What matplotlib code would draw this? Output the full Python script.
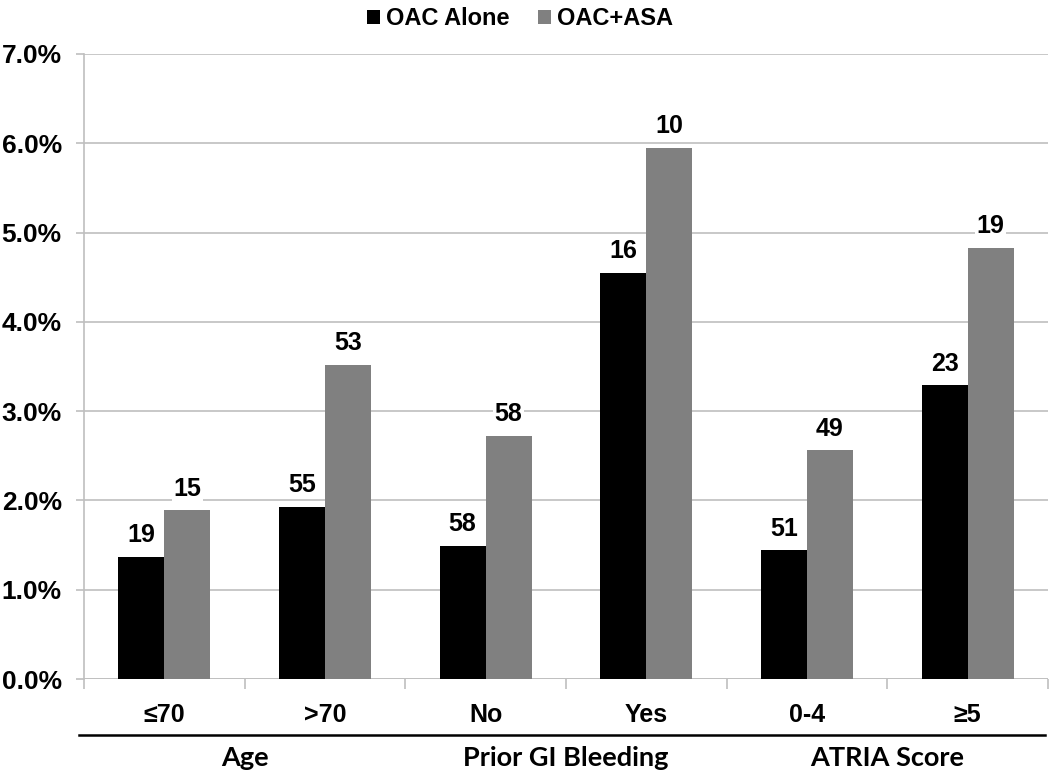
import matplotlib
matplotlib.use("Agg")
import matplotlib.pyplot as plt
import matplotlib.transforms as mtransforms
import numpy as np

categories = ["≤70", ">70", "No", "Yes", "0-4", "≥5"]
groups = ["Age", "Prior GI Bleeding", "ATRIA Score"]
series_names = ["OAC Alone", "OAC+ASA"]
oac_alone = [1.37, 1.93, 1.49, 4.55, 1.44, 3.29]
oac_asa = [1.89, 3.52, 2.72, 5.95, 2.56, 4.83]
n_alone = ["19", "55", "58", "16", "51", "23"]
n_asa = ["15", "53", "58", "10", "49", "19"]
yticks = [0, 1, 2, 3, 4, 5, 6, 7]

fig = plt.figure(figsize=(10.5, 7.71), dpi=100)
ax = fig.add_axes([0.08, 0.1193, 0.918, 0.8107])

x = np.arange(len(categories))
w = 0.286
grid_c = "#bfbfbf"
ax.bar(x - w / 2, oac_alone, w, color="#000000", label=series_names[0], zorder=3)
ax.bar(x + w / 2, oac_asa, w, color="#808080", label=series_names[1], zorder=3)

sans = ["Liberation Sans", "DejaVu Sans"]
lab_font = dict(family=sans, fontweight="bold", fontsize=18)
for xi, v, t in zip(x - w / 2, oac_alone, n_alone):
    ax.annotate(t, (xi, v), xytext=(0, 7), textcoords="offset points", ha="center", va="bottom",
                bbox=dict(facecolor="white", edgecolor="none", pad=1), zorder=4, **lab_font)
for xi, v, t in zip(x + w / 2, oac_asa, n_asa):
    ax.annotate(t, (xi, v), xytext=(0, 7), textcoords="offset points", ha="center", va="bottom",
                bbox=dict(facecolor="white", edgecolor="none", pad=1), zorder=4, **lab_font)

ax.set_ylim(0, 7)
ax.set_xlim(-0.5, len(categories) - 0.5)
ax.set_yticks(yticks)
ax.set_yticklabels([f"{v:.1f}%" for v in yticks])
ax.yaxis.grid(True, color=grid_c, linewidth=1.2, zorder=0)
ax.set_axisbelow(True)
for s in ["top", "right", "bottom"]:
    ax.spines[s].set_visible(False)
ax.spines["left"].set_color(grid_c)
ax.spines["left"].set_linewidth(1.2)
ax.axhline(0, color=grid_c, linewidth=1.2, zorder=2)
ax.tick_params(axis="y", length=6, color=grid_c, width=1.2, pad=10)
for t in ax.get_yticklabels():
    t.set_fontweight("bold"); t.set_fontsize(19); t.set_family(sans)

ax.set_xticks(x)
ax.set_xticklabels(categories)
ax.tick_params(axis="x", length=0, pad=17)
for t in ax.get_xticklabels():
    t.set_fontweight("bold"); t.set_fontsize(18); t.set_family(sans)
ax.set_xticks(np.arange(-0.5, len(categories), 1.0), minor=True)
ax.tick_params(axis="x", which="minor", length=7, color=grid_c, width=1.2)

trans = mtransforms.blended_transform_factory(ax.transData, ax.transAxes)
line_y = -0.089
ax.plot([-0.53, len(categories) - 0.52], [line_y, line_y], color="black", linewidth=1.8,
        transform=trans, clip_on=False)
for gi, g in enumerate(groups):
    ax.text(2 * gi + 0.5, -0.127, g, transform=trans, ha="center", va="center",
            fontsize=19.5, fontweight="bold", family=["Lato", "DejaVu Sans"])

leg = fig.legend(loc="upper center", bbox_to_anchor=(0.495, 1.018), ncol=2, frameon=False,
                 handlelength=0.55, handleheight=0.55, handletextpad=0.25, columnspacing=1.2,
                 prop=dict(family=sans, weight="bold", size=17))

fig.savefig("out.png", dpi=100)
